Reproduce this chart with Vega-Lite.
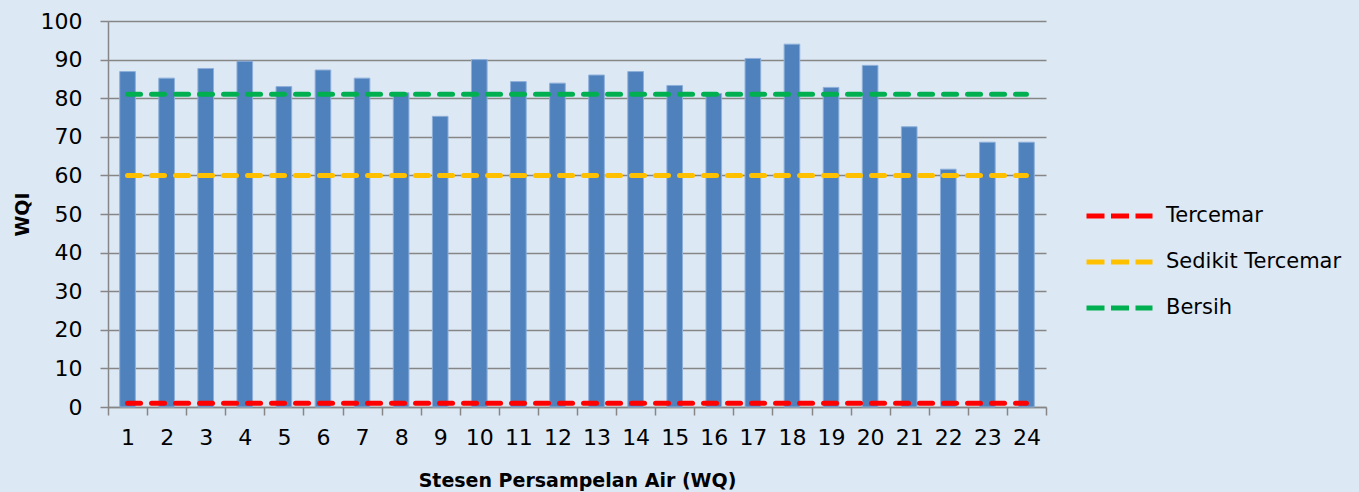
{
  "$schema": "https://vega.github.io/schema/vega-lite/v6.json",
  "width": 938,
  "height": 386,
  "autosize": {"type": "none"},
  "padding": {"left": 108, "top": 21, "right": 313, "bottom": 85},
  "background": "#DDE8F5",
  "config": {"view": {"stroke": null}, "font": "DejaVu Sans"},
  "data": {
    "values": [
      {"station": 1, "WQI": 86.9, "Tercemar": 1, "Sedikit Tercemar": 60, "Bersih": 81},
      {"station": 2, "WQI": 85.2, "Tercemar": 1, "Sedikit Tercemar": 60, "Bersih": 81},
      {"station": 3, "WQI": 87.7, "Tercemar": 1, "Sedikit Tercemar": 60, "Bersih": 81},
      {"station": 4, "WQI": 89.6, "Tercemar": 1, "Sedikit Tercemar": 60, "Bersih": 81},
      {"station": 5, "WQI": 83.0, "Tercemar": 1, "Sedikit Tercemar": 60, "Bersih": 81},
      {"station": 6, "WQI": 87.3, "Tercemar": 1, "Sedikit Tercemar": 60, "Bersih": 81},
      {"station": 7, "WQI": 85.2, "Tercemar": 1, "Sedikit Tercemar": 60, "Bersih": 81},
      {"station": 8, "WQI": 81.4, "Tercemar": 1, "Sedikit Tercemar": 60, "Bersih": 81},
      {"station": 9, "WQI": 75.3, "Tercemar": 1, "Sedikit Tercemar": 60, "Bersih": 81},
      {"station": 10, "WQI": 90.0, "Tercemar": 1, "Sedikit Tercemar": 60, "Bersih": 81},
      {"station": 11, "WQI": 84.3, "Tercemar": 1, "Sedikit Tercemar": 60, "Bersih": 81},
      {"station": 12, "WQI": 83.9, "Tercemar": 1, "Sedikit Tercemar": 60, "Bersih": 81},
      {"station": 13, "WQI": 86.0, "Tercemar": 1, "Sedikit Tercemar": 60, "Bersih": 81},
      {"station": 14, "WQI": 86.9, "Tercemar": 1, "Sedikit Tercemar": 60, "Bersih": 81},
      {"station": 15, "WQI": 83.3, "Tercemar": 1, "Sedikit Tercemar": 60, "Bersih": 81},
      {"station": 16, "WQI": 81.2, "Tercemar": 1, "Sedikit Tercemar": 60, "Bersih": 81},
      {"station": 17, "WQI": 90.3, "Tercemar": 1, "Sedikit Tercemar": 60, "Bersih": 81},
      {"station": 18, "WQI": 94.0, "Tercemar": 1, "Sedikit Tercemar": 60, "Bersih": 81},
      {"station": 19, "WQI": 82.8, "Tercemar": 1, "Sedikit Tercemar": 60, "Bersih": 81},
      {"station": 20, "WQI": 88.5, "Tercemar": 1, "Sedikit Tercemar": 60, "Bersih": 81},
      {"station": 21, "WQI": 72.6, "Tercemar": 1, "Sedikit Tercemar": 60, "Bersih": 81},
      {"station": 22, "WQI": 61.6, "Tercemar": 1, "Sedikit Tercemar": 60, "Bersih": 81},
      {"station": 23, "WQI": 68.6, "Tercemar": 1, "Sedikit Tercemar": 60, "Bersih": 81},
      {"station": 24, "WQI": 68.6, "Tercemar": 1, "Sedikit Tercemar": 60, "Bersih": 81}
    ]
  },
  "encoding": {
    "x": {
      "field": "station",
      "type": "ordinal",
      "scale": {"paddingInner": 0, "paddingOuter": 0},
      "axis": {
        "title": "Stesen Persampelan Air (WQ)",
        "labelAngle": 0,
        "labelOverlap": false,
        "tickBand": "extent",
        "tickSize": 8,
        "tickColor": "#868686",
        "tickWidth": 1.5,
        "domainColor": "#868686",
        "domainWidth": 1.5,
        "labelFontSize": 22,
        "labelColor": "#000000",
        "labelPadding": 12,
        "titleFontSize": 19,
        "titleFontWeight": "bold",
        "titleColor": "#000000",
        "titlePadding": 23
      }
    }
  },
  "layer": [
    {
      "mark": {"type": "bar", "color": "#4F81BD", "stroke": "#8DAFD9", "strokeWidth": 1, "width": {"band": 0.4}},
      "encoding": {
        "y": {
          "field": "WQI",
          "type": "quantitative",
          "scale": {"domain": [0, 100], "nice": false},
          "axis": {
            "title": "WQI",
            "values": [0, 10, 20, 30, 40, 50, 60, 70, 80, 90, 100],
            "labelOverlap": false,
            "grid": true,
            "gridColor": "#868686",
            "gridWidth": 1.5,
            "tickSize": 8,
            "tickColor": "#868686",
            "tickWidth": 1.5,
            "domainColor": "#868686",
            "domainWidth": 1.5,
            "labelFontSize": 22,
            "labelColor": "#000000",
            "labelPadding": 18,
            "titleFontSize": 19,
            "titleFontWeight": "bold",
            "titleColor": "#000000",
            "titlePadding": 8
          }
        }
      }
    },
    {
      "transform": [{"fold": ["Tercemar", "Sedikit Tercemar", "Bersih"], "as": ["Kelas", "Nilai"]}],
      "mark": {"type": "line", "strokeWidth": 5, "strokeDash": [13, 11], "strokeCap": "round"},
      "encoding": {
        "y": {
          "field": "Nilai",
          "type": "quantitative",
          "axis": {
            "title": "WQI",
            "values": [0, 10, 20, 30, 40, 50, 60, 70, 80, 90, 100],
            "labelOverlap": false,
            "grid": true,
            "gridColor": "#868686",
            "gridWidth": 1.5,
            "tickSize": 8,
            "tickColor": "#868686",
            "tickWidth": 1.5,
            "domainColor": "#868686",
            "domainWidth": 1.5,
            "labelFontSize": 22,
            "labelColor": "#000000",
            "labelPadding": 18,
            "titleFontSize": 19,
            "titleFontWeight": "bold",
            "titleColor": "#000000",
            "titlePadding": 8
          }
        },
        "color": {
          "field": "Kelas",
          "type": "nominal",
          "scale": {"domain": ["Tercemar", "Sedikit Tercemar", "Bersih"], "range": ["#FF0000", "#FFC000", "#00B050"]},
          "legend": {
            "title": null,
            "orient": "none",
            "legendX": 976,
            "legendY": 159.5,
            "symbolType": "stroke",
            "symbolSize": 4356,
            "symbolStrokeWidth": 5,
            "symbolDash": [18, 6.5],
            "labelFontSize": 21,
            "labelColor": "#000000",
            "labelOffset": 11,
            "labelLimit": 400,
            "rowPadding": -18
          }
        }
      }
    }
  ]
}
